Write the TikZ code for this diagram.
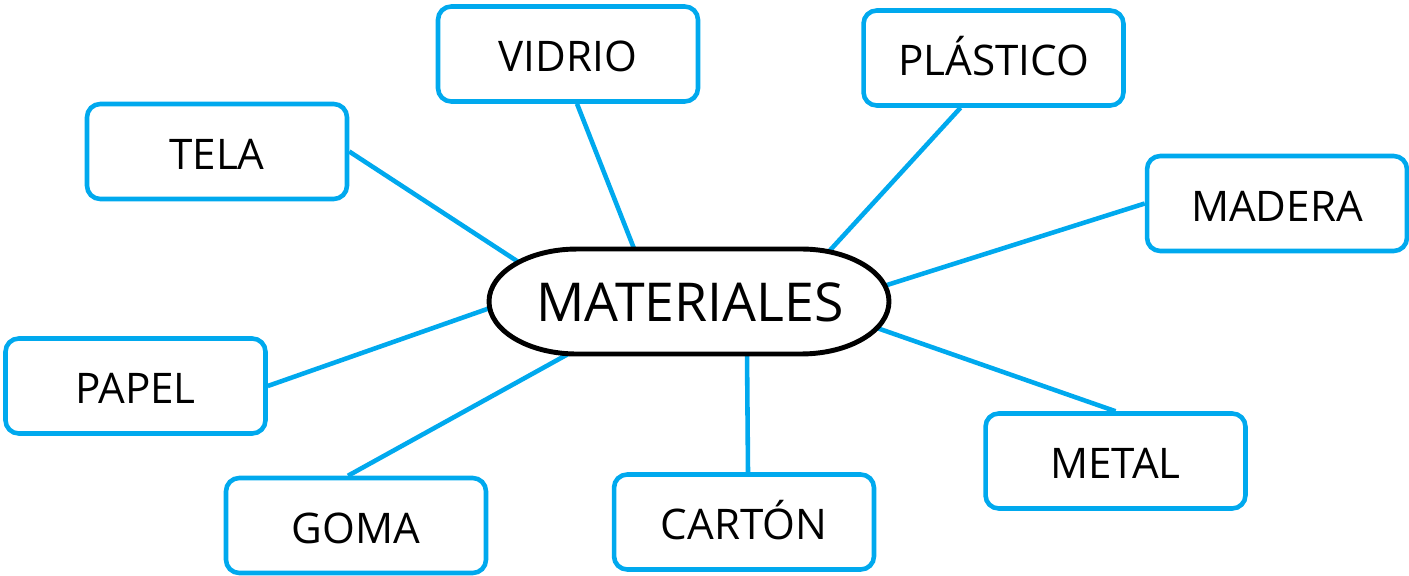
\documentclass[tikz,border=0pt]{standalone}
\usepackage{fontspec}
\setmainfont{Open Sans}
\usetikzlibrary{calc,backgrounds}
\definecolor{matblue}{RGB}{0,169,238}

\begin{document}
\begin{tikzpicture}[x=0.02cm,y=-0.02cm,
  matbox/.style={draw=matblue,line width=2.6pt,rounded corners=7.5pt,
    minimum width=5.2cm,minimum height=1.9cm,inner sep=0pt,
    text height=20pt,text depth=0pt,font=\fontsize{24}{28}\selectfont},
  link/.style={draw=matblue,line width=2.6pt,shorten >=-3pt},
  mattext/.style={inner sep=0pt,text height=23pt,text depth=0pt,
    font=\fontsize{30.5}{36}\selectfont}]
\useasboundingbox (0,0) rectangle (1409,575);
\node[matbox] (vidrio) at (568,54) {VIDRIO};
\node[matbox] (plastico) at (993.5,58) {PLÁSTICO};
\node[matbox] (tela) at (217,151.5) {TELA};
\node[matbox] (madera) at (1277,203.5) {MADERA};
\node[matbox] (papel) at (135.5,386) {PAPEL};
\node[matbox] (goma) at (356,525.5) {GOMA};
\node[matbox] (carton) at (744,522) {CARTÓN};
\node[matbox] (metal) at (1115.5,461) {METAL};
\node[mattext] (mat) at (690,301.5) {MATERIALES}; % centro
\begin{scope}[on background layer]
\draw[link] (tela.east) -- ($(mat)+(-170,-38.5)$);
\draw[link] ($(vidrio.south)+(9,0)$) -- ($(mat)+(-57,-55.5)$);
\draw[link] ($(plastico.south)+(-33,0)$) -- ($(mat)+(143,-54.5)$);
\draw[link] (madera.west) -- ($(mat)+(197,-16.5)$);
\draw[link] (papel.east) -- ($(mat)+(-200,6.5)$);
\draw[link] ($(goma.north)+(-8,0)$) -- ($(mat)+(-120,51.5)$);
\draw[link] ($(carton.north)+(4,0)$) -- ($(mat)+(57,51.5)$);
\draw[link] (metal.north) -- ($(mat)+(187,26.5)$);
% ovalo
\draw[line width=2.8pt,fill=white] ($(mat)+(-113,-52.5)$) -- ($(mat)+(111,-52.5)$)
  arc[start angle=90,end angle=-90,x radius=1.76cm,y radius=1.05cm]
  -- ($(mat)+(-113,52.5)$)
  arc[start angle=270,end angle=90,x radius=1.76cm,y radius=1.05cm] -- cycle;
\end{scope}
\end{tikzpicture}
\end{document}
